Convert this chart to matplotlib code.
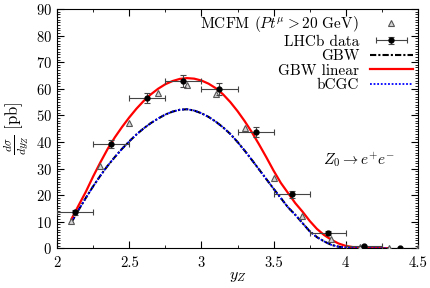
#!/usr/bin/env python3
"""Z0 -> e+e- rapidity distribution: LHCb data, MCFM and dipole model curves."""

import matplotlib

matplotlib.use("Agg")
import matplotlib.pyplot as plt
from matplotlib.legend_handler import HandlerErrorbar
from matplotlib.ticker import MultipleLocator

plt.rcParams["font.family"] = "serif"
plt.rcParams["font.serif"] = ["cmr10", "DejaVu Serif"]
plt.rcParams["mathtext.fontset"] = "cm"
plt.rcParams["axes.formatter.use_mathtext"] = True

# LHCb data (bin centres, half bin width, cross section, error)
LHCB_Y = [2.125, 2.375, 2.625, 2.875, 3.125, 3.375, 3.625, 3.875, 4.125, 4.375]
LHCB_XERR = [0.125] * 10
LHCB_SIGMA = [13.5, 39.2, 56.5, 63.0, 59.9, 43.7, 20.3, 5.7, 0.7, 0.1]
LHCB_ERR = [0.9, 1.6, 2.0, 2.3, 2.3, 1.8, 1.2, 0.8, 0.2, 0.1]

# MCFM prediction
MCFM_Y = [2.1, 2.3, 2.5, 2.7, 2.9, 3.1, 3.3, 3.5, 3.7, 3.9, 4.1, 4.3, 4.5]
MCFM_SIGMA = [10.4, 31.1, 47.3, 58.5, 61.6, 57.9, 45.4, 26.4, 12.3, 3.6, 0.6, 0.1, 0.0]

# model curves
CURVE_Y = [
    2.10, 2.15, 2.20, 2.25, 2.30, 2.35, 2.40, 2.45, 2.50, 2.55,
    2.60, 2.65, 2.70, 2.75, 2.80, 2.85, 2.90, 2.95, 3.00, 3.05,
    3.10, 3.15, 3.20, 3.25, 3.30, 3.35, 3.40, 3.45, 3.50, 3.55,
    3.60, 3.65, 3.70, 3.75, 3.80, 3.85, 3.90, 3.95, 4.00, 4.05,
    4.10, 4.15, 4.20, 4.25, 4.30,
]
GBW_LINEAR = [
    11.0, 16.2, 21.3, 27.0, 32.3, 37.3, 41.7, 45.6, 49.2, 52.5,
    55.4, 57.9, 60.0, 61.7, 62.9, 63.7, 64.0, 63.8, 63.1, 61.9,
    60.2, 57.9, 55.0, 51.6, 47.8, 43.6, 39.0, 34.2, 29.2, 24.6,
    20.8, 17.0, 13.8, 10.3, 7.3, 5.0, 3.2, 1.8, 0.9, 0.45,
    0.2, 0.1, 0.05, 0.02, 0.0,
]
GBW = [
    9.8, 14.5, 19.0, 23.3, 27.3, 31.0, 34.3, 37.4, 40.2, 42.8,
    45.1, 47.1, 48.8, 50.3, 51.4, 52.1, 52.3, 51.8, 50.8, 49.4,
    47.6, 45.5, 43.0, 40.0, 36.7, 33.2, 29.6, 26.0, 22.4, 18.9,
    15.4, 12.6, 9.5, 6.4, 4.2, 2.6, 1.3, 0.6, 0.3, 0.15,
    0.08, 0.04, 0.02, 0.01, 0.0,
]
BCGC = [
    9.8, 14.5, 19.0, 23.3, 27.3, 31.0, 34.3, 37.4, 40.2, 42.8,
    45.1, 47.1, 48.8, 50.3, 51.4, 52.1, 52.3, 51.8, 50.8, 49.4,
    47.6, 45.5, 43.0, 40.0, 36.7, 33.2, 29.6, 26.0, 22.4, 18.9,
    15.4, 12.6, 9.5, 6.4, 4.2, 2.6, 1.3, 0.6, 0.3, 0.15,
    0.08, 0.04, 0.02, 0.01, 0.0,
]

fig = plt.figure(figsize=(4.31, 2.88), dpi=100)
ax = fig.add_axes([0.1323, 0.1378, 0.8375, 0.831])

h_mcfm, = ax.plot(MCFM_Y, MCFM_SIGMA, linestyle="none", marker="^", markersize=4,
                  markerfacecolor="#d4d4d4", markeredgecolor="#555555",
                  markeredgewidth=0.8, label=r"MCFM ($Pt^{\mu} > 20$ GeV)", zorder=4)
h_lhcb = ax.errorbar(LHCB_Y, LHCB_SIGMA, xerr=LHCB_XERR, yerr=LHCB_ERR, fmt="o",
                     color="black", markersize=3.5, ecolor="#444444", elinewidth=0.8,
                     capsize=2.5, capthick=0.8, label="LHCb data", zorder=5)
h_gbw, = ax.plot(CURVE_Y, GBW, color="black", linestyle=(0, (3, 1, 1, 1)),
                 linewidth=1.5, label="GBW", zorder=2)
h_lin, = ax.plot(CURVE_Y, GBW_LINEAR, color="#ff0000", linewidth=1.6,
                 label="GBW linear", zorder=3)
h_bcgc, = ax.plot(CURVE_Y, BCGC, color="#0000ff", linestyle=(0, (1, 1)),
                  linewidth=1.3, label="bCGC", zorder=3)

ax.text(3.845, 33.5, r"$Z_0 \rightarrow e^{+}e^{-}$", fontsize=11, va="center")

ax.set_xlim(2, 4.5)
ax.set_ylim(0, 90)
ax.set_xticks([2, 2.5, 3, 3.5, 4, 4.5])
ax.set_xticklabels(["2", "2.5", "3", "3.5", "4", "4.5"])
ax.xaxis.set_minor_locator(MultipleLocator(0.25))
ax.yaxis.set_major_locator(MultipleLocator(10))
ax.yaxis.set_minor_locator(MultipleLocator(1))
ax.tick_params(which="both", direction="in", top=True, right=True, labelsize=10.5)
ax.tick_params(which="major", length=5, width=0.8)
ax.tick_params(which="minor", length=2.5, width=0.6)
ax.tick_params(axis="x", pad=6)

ax.set_xlabel(r"$y_Z$", fontsize=11.5, labelpad=0)
ax.set_ylabel(r"$\frac{d\sigma}{dy_Z}$ [pb]", fontsize=12, labelpad=4)

ax.legend(handles=[h_mcfm, h_lhcb, h_gbw, h_lin, h_bcgc],
          handler_map={type(h_lhcb): HandlerErrorbar(xerr_size=1.0, yerr_size=0.25)},
          loc="upper right", markerfirst=False, frameon=False, fontsize=11,
          handlelength=2.8, handletextpad=0.7, labelspacing=0.05,
          borderaxespad=0.15, borderpad=0.2)

fig.savefig("out.png", dpi=100)
